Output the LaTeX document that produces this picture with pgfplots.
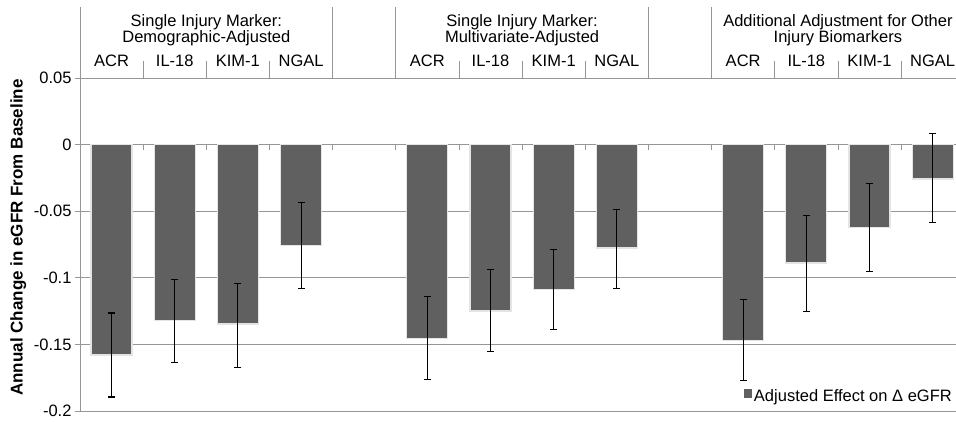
\documentclass[border=0pt]{standalone}
\usepackage{fontspec}
\setmainfont{Liberation Sans}
\usepackage{pgfplots}
\pgfplotsset{compat=1.18}
\usepackage{pgfplotstable}
\definecolor{barcol}{RGB}{96,96,96}
\definecolor{linecol}{RGB}{150,150,150}
\definecolor{edgecol}{RGB}{228,228,228}
\newcommand{\hdr}{\fontsize{16.5}{19}\selectfont}

\pgfplotstableread{
x y ep em
0 -0.1580 0.0316 0.0315
1 -0.1320 0.0310 0.0315
2 -0.1347 0.0307 0.0328
3 -0.0758 0.0320 0.0322
5 -0.1455 0.0315 0.0310
6 -0.1250 0.0310 0.0300
7 -0.1090 0.0300 0.0295
8 -0.0776 0.0286 0.0304
10 -0.1470 0.0306 0.0300
11 -0.0889 0.0356 0.0361
12 -0.0621 0.0331 0.0329
13 -0.0258 0.0338 0.0330
}\data

\begin{document}
\begin{tikzpicture}
\begin{axis}[
  scale only axis, width=876pt, height=333pt,
  xmin=-0.5, xmax=13.37, ymin=-0.2, ymax=0.05,
  axis x line=middle, axis y line=left,
  axis line style={linecol, line width=0.8pt, -},
  xtick={-0.5,0.5,...,13.5}, xticklabels={},
  ytick={-0.2,-0.15,-0.1,-0.05,0,0.05},
  yticklabels={-0.2,-0.15,-0.1,-0.05,0,0.05},
  tick align=outside, major tick length=5pt,
  tick style={linecol, line width=0.8pt},
  yticklabel style={font=\hdr, text=black},
  ymajorgrids, grid style={linecol, line width=0.8pt},
  ylabel={Annual Change in eGFR From Baseline},
  ylabel style={font=\bfseries\fontsize{17}{20}\selectfont, at={(axis description cs:-0.0705,0.521)}, anchor=center},
  ybar, bar width=41pt,
  clip=false,
  legend style={draw=none, fill=none, at={(1,0)}, anchor=south east, font=\hdr, inner sep=2pt, yshift=4pt},
  legend image code/.code={\fill[barcol] (0pt,-1pt) rectangle (7pt,6pt);},
]
\addplot[fill=barcol, draw=edgecol, line width=1.2pt,
  error bars/.cd, y dir=both, y explicit,
  error bar style={black, line width=1.1pt},
  error mark options={rotate=90, black, mark size=3.5pt, line width=1.1pt}]
  table[x=x, y=y, y error plus=ep, y error minus=em] {\data};
\addlegendentry{Adjusted Effect on Δ eGFR}

\coordinate (BL) at (rel axis cs:0,0);
\coordinate (TR) at (rel axis cs:1,1);

\draw[linecol, line width=0.8pt]
  (axis cs:-0.5,0.05) -- (axis cs:-0.5,0.1035)
  (axis cs:3.5,0.05) -- (axis cs:3.5,0.1035)
  (axis cs:4.5,0.05) -- (axis cs:4.5,0.1035)
  (axis cs:8.5,0.05) -- (axis cs:8.5,0.1035)
  (axis cs:9.5,0.05) -- (axis cs:9.5,0.1035)
  (axis cs:0.5,0.05) -- (axis cs:0.5,0.0628)
  (axis cs:1.5,0.05) -- (axis cs:1.5,0.0628)
  (axis cs:2.5,0.05) -- (axis cs:2.5,0.0628)
  (axis cs:5.5,0.05) -- (axis cs:5.5,0.0628)
  (axis cs:6.5,0.05) -- (axis cs:6.5,0.0628)
  (axis cs:7.5,0.05) -- (axis cs:7.5,0.0628)
  (axis cs:10.5,0.05) -- (axis cs:10.5,0.0628)
  (axis cs:11.5,0.05) -- (axis cs:11.5,0.0628)
  (axis cs:12.5,0.05) -- (axis cs:12.5,0.0628);

\node[anchor=base, font=\hdr] at (axis cs:1.5,0.089) {Single Injury Marker:};
\node[anchor=base, font=\hdr] at (axis cs:1.5,0.0765) {Demographic-Adjusted};
\node[anchor=base, font=\hdr] at (axis cs:6.5,0.089) {Single Injury Marker:};
\node[anchor=base, font=\hdr] at (axis cs:6.5,0.0765) {Multivariate-Adjusted};
\node[anchor=base, font=\hdr] at (axis cs:11.5,0.089) {Additional Adjustment for Other};
\node[anchor=base, font=\hdr] at (axis cs:11.5,0.0765) {Injury Biomarkers};

\node[anchor=base, font=\hdr] at (axis cs:0,0.0585) {ACR};
\node[anchor=base, font=\hdr] at (axis cs:1,0.0585) {IL-18};
\node[anchor=base, font=\hdr] at (axis cs:2,0.0585) {KIM-1};
\node[anchor=base, font=\hdr] at (axis cs:3,0.0585) {NGAL};
\node[anchor=base, font=\hdr] at (axis cs:5,0.0585) {ACR};
\node[anchor=base, font=\hdr] at (axis cs:6,0.0585) {IL-18};
\node[anchor=base, font=\hdr] at (axis cs:7,0.0585) {KIM-1};
\node[anchor=base, font=\hdr] at (axis cs:8,0.0585) {NGAL};
\node[anchor=base, font=\hdr] at (axis cs:10,0.0585) {ACR};
\node[anchor=base, font=\hdr] at (axis cs:11,0.0585) {IL-18};
\node[anchor=base, font=\hdr] at (axis cs:12,0.0585) {KIM-1};
\node[anchor=base, font=\hdr] at (axis cs:13,0.0585) {NGAL};
\end{axis}
\pgfresetboundingbox
\path[use as bounding box] ([xshift=-80pt,yshift=-11pt]BL) rectangle ([yshift=78pt]TR);
\end{tikzpicture}
\end{document}
